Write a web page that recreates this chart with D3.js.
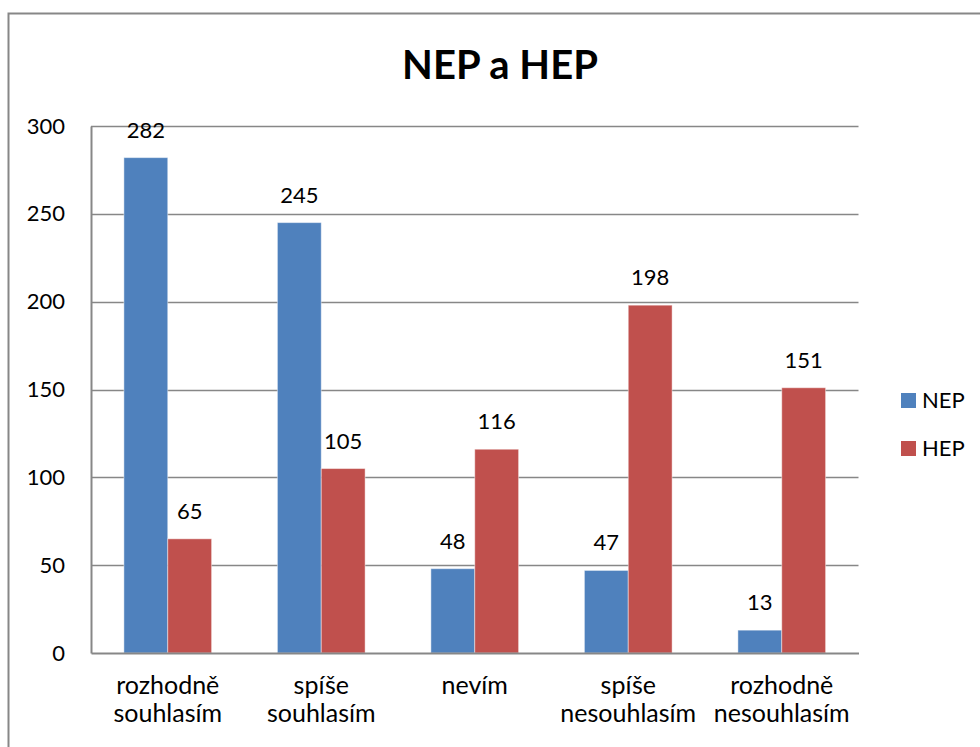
<!DOCTYPE html>
<html lang="cs">
<head>
    <meta charset="UTF-8">
    <title>NEP a HEP</title>
    <script src="https://d3js.org/d3.v7.min.js"></script>
    <style>
        body { margin: 0; background: #fff; }
        text { font-family: Lato, "Open Sans", sans-serif; fill: #000; }
    </style>
</head>
<body>
<svg width="980" height="747"></svg>
<script>
    // data
    var categories = ["rozhodně souhlasím", "spíše souhlasím", "nevím", "spíše nesouhlasím", "rozhodně nesouhlasím"];
    var seriesNames = ["NEP", "HEP"];
    var nepValues = [282, 245, 48, 47, 13];
    var hepValues = [65, 105, 116, 198, 151];
    var yTicks = [0, 50, 100, 150, 200, 250, 300];
    var colors = ["#4F81BD", "#C0504D"];

    var svg = d3.select("svg");

    var plotLeft = 91, plotRight = 858.5, plotTop = 126, plotBottom = 653;

    // outer frame of the chart
    svg.append("rect")
        .attr("x", 8.5).attr("y", 13.5)
        .attr("width", 1000).attr("height", 1000)
        .attr("fill", "none")
        .attr("stroke", "#878787")
        .attr("stroke-width", 2);

    svg.append("text")
        .attr("x", 500).attr("y", 79)
        .attr("text-anchor", "middle")
        .style("font-size", "40px")
        .style("font-weight", "bold")
        .text("NEP a HEP");

    var x0 = d3.scaleBand().domain(categories).range([plotLeft, plotRight]).padding(0);
    var x1 = d3.scaleBand().domain(seriesNames).range([0, x0.bandwidth()]).paddingInner(0).paddingOuter(0.75);
    var y = d3.scaleLinear().domain([0, 300]).range([plotBottom, plotTop]);

    var rows = categories.map(function (c, i) {
        return {cat: c, vals: [{s: "NEP", v: nepValues[i]}, {s: "HEP", v: hepValues[i]}]};
    });

    // gridlines
    svg.append("g").selectAll("line")
        .data(yTicks.filter(function (d) { return d > 0; }))
        .enter().append("line")
        .attr("x1", plotLeft).attr("x2", plotRight)
        .attr("y1", function (d) { return Math.round(y(d)) + 0.5; })
        .attr("y2", function (d) { return Math.round(y(d)) + 0.5; })
        .attr("stroke", "#878787")
        .attr("stroke-width", 1.5);

    // y axis
    var yAxis = svg.append("g")
        .attr("transform", "translate(" + plotLeft + ",0)")
        .call(d3.axisLeft(y).tickValues(yTicks).tickSize(0).tickPadding(26));
    yAxis.select(".domain").attr("stroke", "#878787").attr("stroke-width", 2);
    yAxis.selectAll("text").style("font-size", "22px").style("fill", "#000");

    // bars
    var groups = svg.append("g").selectAll("g")
        .data(rows)
        .enter().append("g")
        .attr("transform", function (d) { return "translate(" + x0(d.cat) + ",0)"; });

    groups.selectAll("rect")
        .data(function (d) { return d.vals; })
        .enter().append("rect")
        .attr("x", function (d) { return x1(d.s); })
        .attr("y", function (d) { return y(d.v); })
        .attr("width", x1.bandwidth())
        .attr("height", function (d) { return y(0) - y(d.v); })
        .attr("fill", function (d, i) { return colors[i]; })
        .attr("stroke", "rgba(255,255,255,0.45)")
        .attr("stroke-width", 1);

    groups.selectAll("text.val")
        .data(function (d) { return d.vals; })
        .enter().append("text")
        .attr("class", "val")
        .attr("x", function (d) { return x1(d.s) + x1.bandwidth() / 2; })
        .attr("y", function (d) { return y(d.v) - 20; })
        .attr("text-anchor", "middle")
        .style("font-size", "22px")
        .text(function (d) { return d.v; });

    // x axis
    var xAxis = svg.append("g")
        .attr("transform", "translate(0," + plotBottom + ")")
        .call(d3.axisBottom(x0).tickSize(0).tickFormat(""));
    xAxis.select(".domain").attr("stroke", "#878787").attr("stroke-width", 2);

    var catLabels = svg.append("g").selectAll("text")
        .data(categories)
        .enter().append("text")
        .attr("x", function (d) { return x0(d) + x0.bandwidth() / 2; })
        .attr("y", 694)
        .attr("text-anchor", "middle")
        .style("font-size", "25px");
    catLabels.each(function (d) {
        var parts = d.split(" ");
        var t = d3.select(this);
        parts.forEach(function (p, i) {
            t.append("tspan")
                .attr("x", t.attr("x"))
                .attr("dy", i === 0 ? 0 : 28)
                .text(p);
        });
    });

    // legend
    var legend = svg.append("g").selectAll("g")
        .data(seriesNames)
        .enter().append("g")
        .attr("transform", function (d, i) { return "translate(901," + (393 + i * 48) + ")"; });
    legend.append("rect")
        .attr("width", 15).attr("height", 15)
        .attr("fill", function (d, i) { return colors[i]; });
    legend.append("text")
        .attr("x", 21).attr("y", 15)
        .style("font-size", "22px")
        .text(function (d) { return d; });
</script>
</body>
</html>
